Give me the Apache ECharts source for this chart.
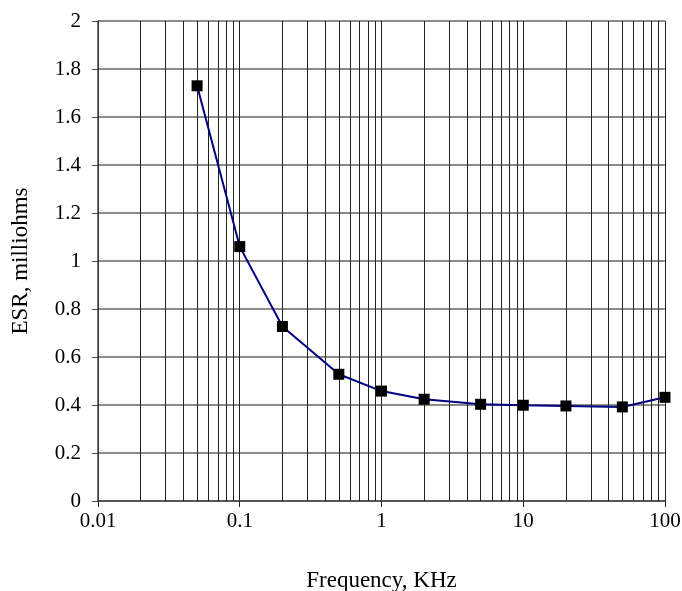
<!DOCTYPE html>
<html><head><meta charset="utf-8">
<script src="https://cdn.jsdelivr.net/npm/echarts@6/dist/echarts.min.js"></script>
<style>html,body{margin:0;padding:0;background:#fff}#c{width:682px;height:591px}</style>
</head><body><div id="c"></div>
<script>
const frequencies = [0.05, 0.1, 0.2, 0.5, 1, 2, 5, 10, 20, 50, 100];
const esr = [1.73, 1.06, 0.727, 0.528, 0.458, 0.424, 0.403, 0.399, 0.396, 0.392, 0.432];
const minorGrid = [];
[0.01, 0.1, 1, 10].forEach(d => { for (let k = 2; k <= 9; k++) minorGrid.push(+(d * k).toPrecision(3)); });
const font = '"Liberation Serif", "Times New Roman", serif';
const chart = echarts.init(document.getElementById('c'));
chart.setOption({
  animation: false,
  backgroundColor: '#fff',
  grid: { left: 98, right: 17, top: 21, bottom: 90, containLabel: false, outerBoundsMode: 'none' },
  xAxis: {
    type: 'log', logBase: 10, min: 0.01, max: 100,
    name: 'Frequency, KHz', nameLocation: 'middle', nameGap: 68,
    nameTextStyle: { fontFamily: font, fontSize: 23, color: '#000' },
    axisLine: { lineStyle: { color: '#444', width: 1.5 } },
    axisTick: { show: true, inside: false, length: 6, lineStyle: { color: '#222' } },
    axisLabel: { fontFamily: font, fontSize: 21, color: '#000', margin: 10,
      formatter: v => String(+v.toPrecision(3)) },
    splitLine: { show: true, lineStyle: { color: '#222', width: 1 } }
  },
  yAxis: {
    type: 'value', min: 0, max: 2, interval: 0.2,
    name: 'ESR, milliohms', nameLocation: 'middle', nameGap: 66, nameRotate: 90,
    nameTextStyle: { fontFamily: font, fontSize: 23, color: '#000' },
    axisLine: { show: true, lineStyle: { color: '#444', width: 1.5 } },
    axisTick: { show: true, inside: false, length: 6, lineStyle: { color: '#444' } },
    axisLabel: { fontFamily: font, fontSize: 21, color: '#000', margin: 17,
      formatter: v => String(+v.toFixed(1)) },
    splitLine: { show: true, lineStyle: { color: '#666', width: 1.5 } }
  },
  series: [{
    type: 'line',
    data: frequencies.map((f, i) => [f, esr[i]]),
    symbol: 'rect', symbolSize: 11,
    itemStyle: { color: '#000' },
    lineStyle: { color: '#000080', width: 2 },
    z: 5,
    markLine: {
      silent: true, symbol: 'none', label: { show: false },
      lineStyle: { color: '#222', width: 1, type: 'solid' },
      data: minorGrid.map(v => ({ xAxis: v })),
      z: 1
    }
  }]
});
</script></body></html>
